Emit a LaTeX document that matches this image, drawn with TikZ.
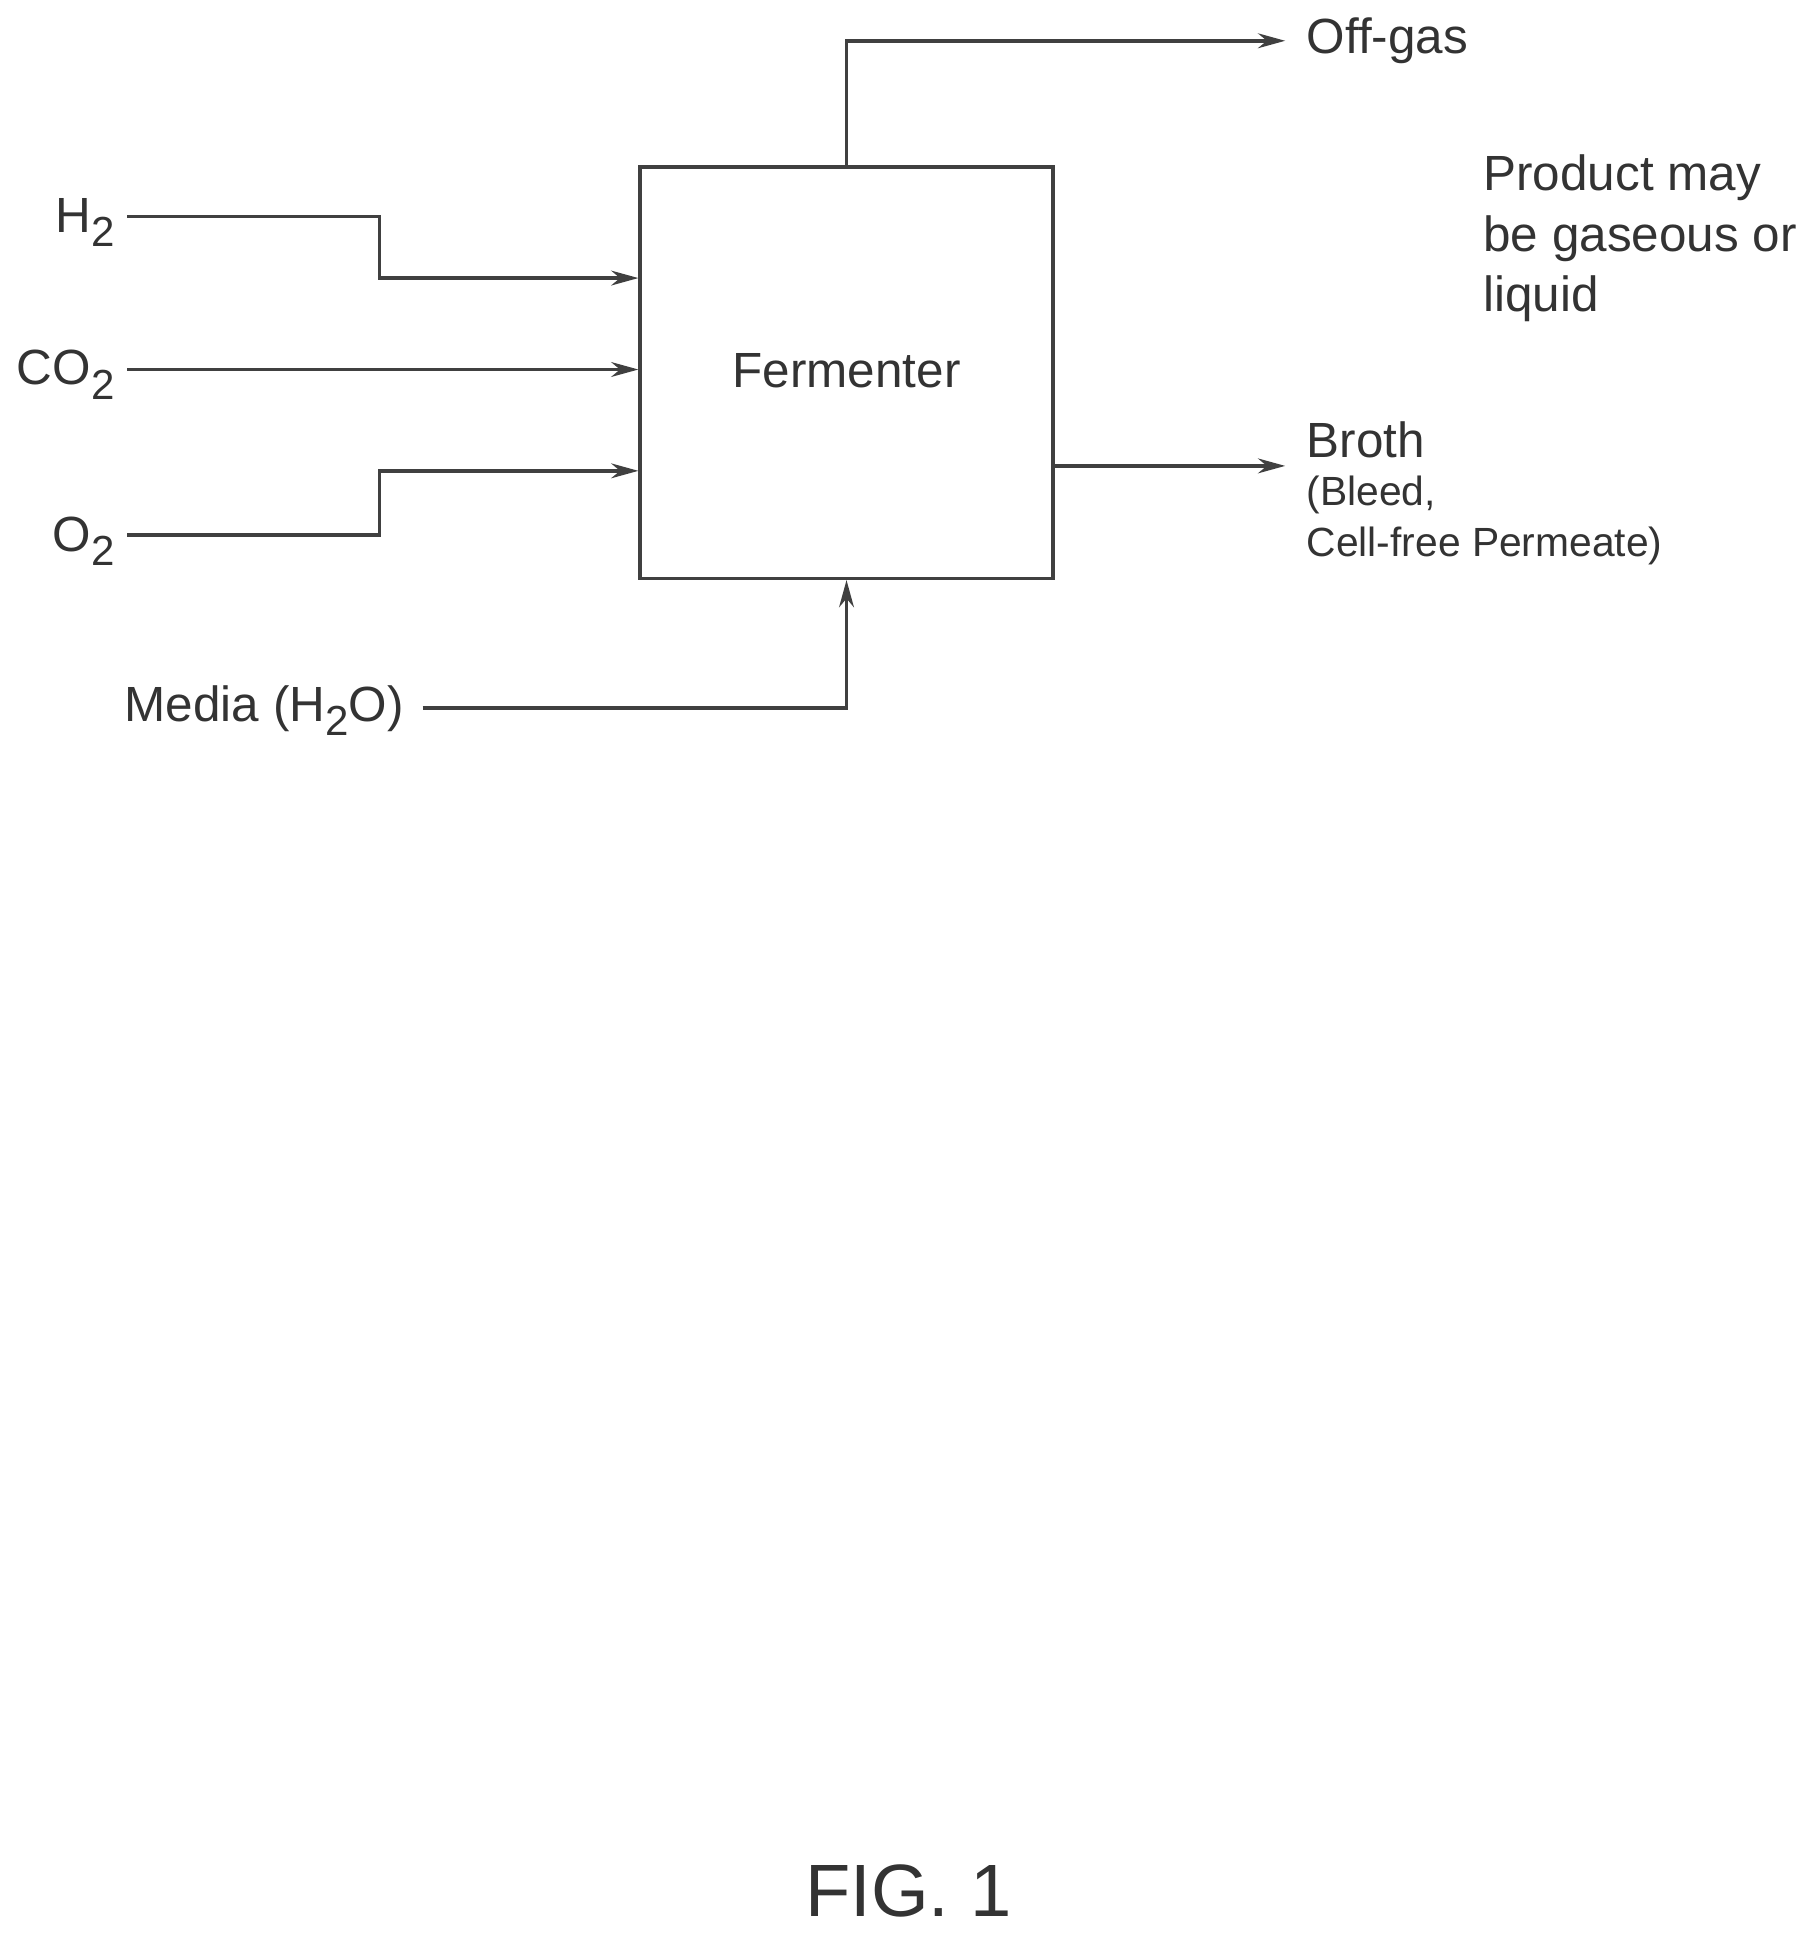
\documentclass[tikz,border=0pt]{standalone}
\usepackage{fontspec}
\setmainfont{Liberation Sans}
\usetikzlibrary{arrows.meta}
\newcommand{\mysub}[1]{\raisebox{-0.3em}{\fontsize{17}{20}\selectfont #1}}
\begin{document}
\begin{tikzpicture}[x=0.5pt,y=-0.5pt,
  ln/.style={draw=black!75,line width=1.4pt},
  ar/.style={ln,-{Stealth[length=11pt,width=6pt]}},
  lab/.style={font=\fontsize{20}{24.5}\selectfont,text=black!80,inner sep=0pt},
  sm/.style={font=\fontsize{16.5}{20.5}\selectfont,text=black!80,inner sep=0pt}]
\useasboundingbox (0,0) rectangle (1470,1565);
\node[ln,minimum width=167pt,minimum height=166.5pt,inner sep=0pt] (F) at (685,301.5) {};
\node[lab] (Ft) at (685,300) {Fermenter};
\node[lab,anchor=east] (H) at (93,180) {H\mysub{2}};
\node[lab,anchor=east] (C) at (93,303) {CO\mysub{2}};
\node[lab,anchor=east] (O) at (93,438) {O\mysub{2}};
\node[lab,anchor=east] (M) at (327,575) {Media (H\mysub{2}O)};
\node[lab,anchor=west] (G) at (1057,33) {Off-gas};
\node[lab,anchor=west] (B) at (1057,356) {Broth};
\node[sm,anchor=north west,align=left] (B2) at (1057,385) {(Bleed,\\Cell-free Permeate)};
\node[lab,anchor=north west,align=left] (P) at (1200,125) {Product may\\be gaseous or\\liquid};
\node[font=\fontsize{30}{36}\selectfont,text=black!80,inner sep=0pt] (fig) at (735,1530) {FIG. 1};
\coordinate (h0) at (103,175);
\coordinate (c0) at (103,299);
\coordinate (o0) at (103,433);
\coordinate (m0) at (342,573);
\coordinate (gE) at (1040,33);
\coordinate (bE) at (1040,377);
\draw[ar] (h0) -- (307,175) -- (307,225) -- (F.west |- 0,225);
\draw[ar] (c0) -- (F.west |- 0,299);
\draw[ar] (o0) -- (307,433) -- (307,381) -- (F.west |- 0,381);
\draw[ar] (m0) -- (685,573) -- (F.south);
\draw[ar] (F.north) -- (685,33) -- (gE);
\draw[ar] (F.east |- 0,377) -- (bE);
\end{tikzpicture}
\end{document}
